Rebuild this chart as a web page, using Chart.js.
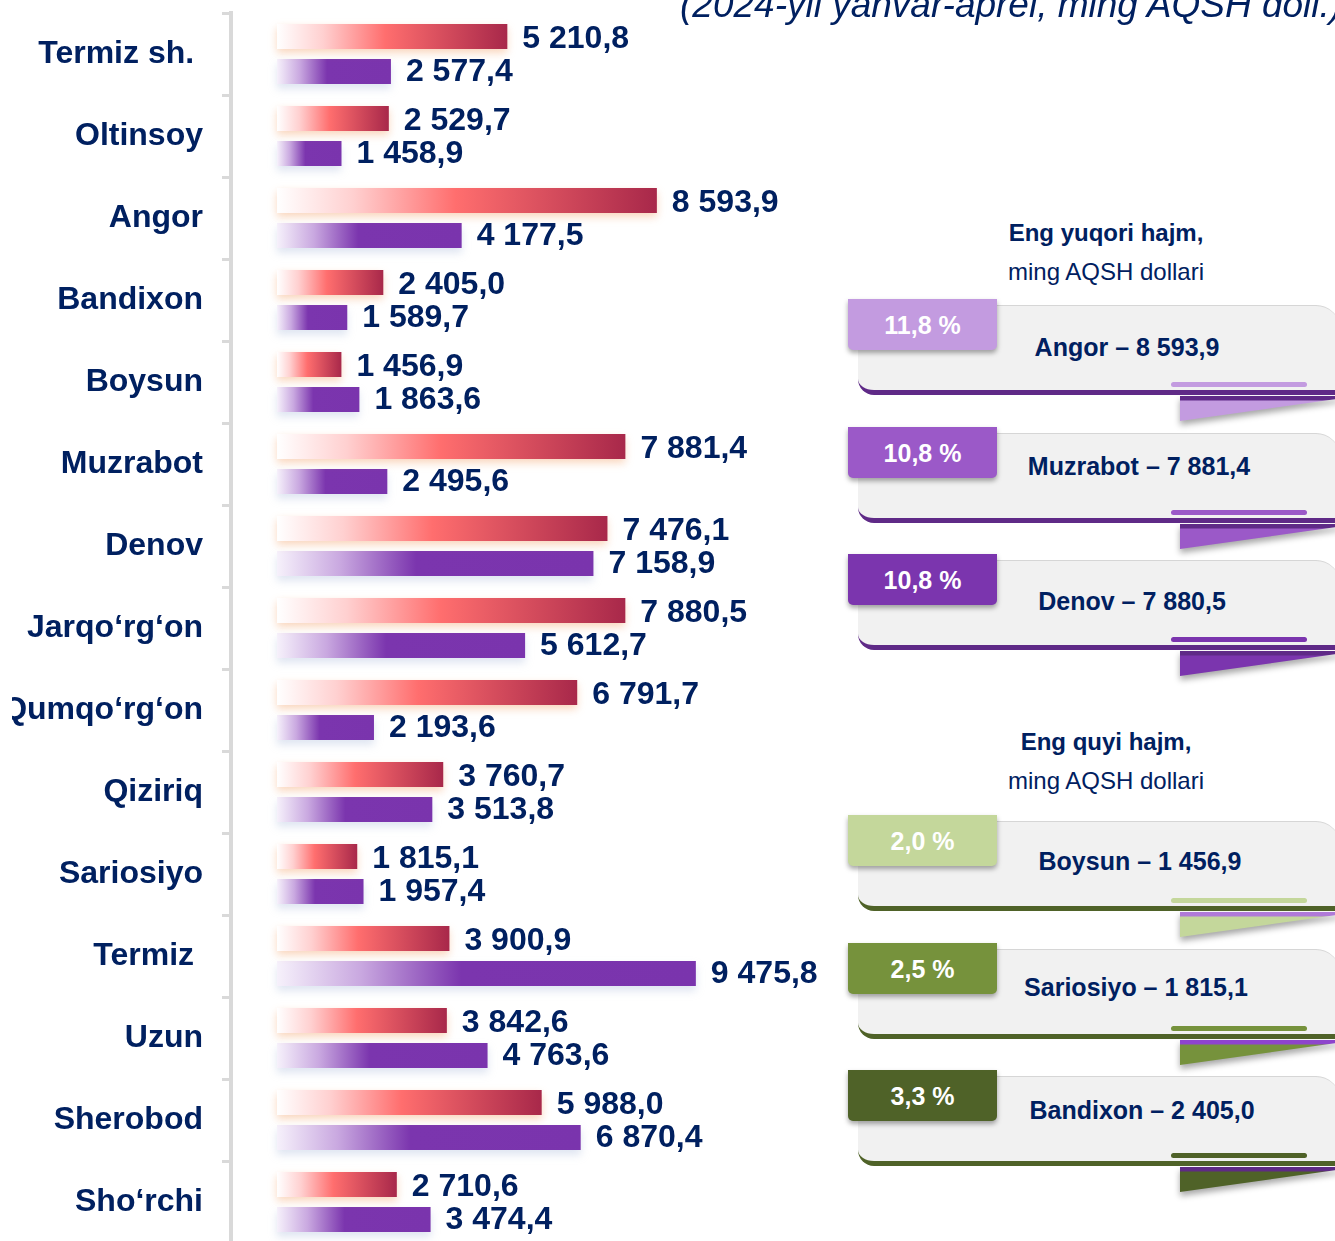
<!DOCTYPE html>
<html lang="uz">
<head>
<meta charset="UTF-8">
<title>Tumanlar bo'yicha eksport va import</title>
<script src="https://cdn.jsdelivr.net/npm/chart.js@4.4.1/dist/chart.umd.min.js"></script>
<style>
  html, body { margin: 0; padding: 0; background: #fff; overflow: hidden; }
  body { width: 1335px; height: 1241px; position: relative; font-family: "Liberation Sans", Arial, sans-serif; }
  #chartBox { position: absolute; left: 12px; top: 0; width: 828px; height: 1245px; }
  .title { position: absolute; left: 680px; top: -14px; font-size: 37px; line-height: 37px; font-style: italic; color: #002060; white-space: nowrap; }
  .head { position: absolute; left: 956px; width: 300px; text-align: center; color: #002060; font-size: 24px; line-height: 39px; }
  .head b { font-weight: bold; }
  .card { position: absolute; left: 858px; width: 482px; height: 84px; background: #f1f1f1; border-top: 1px solid #d6d6d6; border-bottom: 5px solid; border-radius: 0 24px 0 16px; box-sizing: content-box; }
  .accent { position: absolute; left: 313px; width: 136px; height: 5px; border-radius: 3px; top: 76px; }
  .foldWrap { position: absolute; left: 1180px; width: 160px; height: 25px; filter: drop-shadow(0 4px 3px rgba(0,0,0,0.35)); }
  .fold { width: 100%; height: 100%; clip-path: polygon(0 0, 100% 0, 100% 10%, 0 100%); }
  .badge { position: absolute; left: 848px; width: 149px; height: 51px; border-radius: 0 0 5px 5px; box-shadow: 0 3px 5px rgba(0,0,0,0.35); color: #fff; font-weight: bold; font-size: 25px; text-align: center; line-height: 52px; }
  .label { position: absolute; width: 300px; text-align: center; color: #002060; font-weight: bold; font-size: 25px; line-height: 30px; white-space: nowrap; }
</style>
</head>
<body>
<div id="chartBox"><canvas id="barChart" width="828" height="1245"></canvas></div>
<div class="title">(2024-yil yanvar-aprel, ming AQSH doll.)</div>
<div class="head" style="top:213px"><b>Eng yuqori hajm,</b><br>ming AQSH dollari</div>
<div class="head" style="top:722px"><b>Eng quyi hajm,</b><br>ming AQSH dollari</div>
<div id="panels"></div>

<script>
// tumanlar
const districts = ['Termiz sh. ', 'Oltinsoy', 'Angor', 'Bandixon', 'Boysun', 'Muzrabot', 'Denov',
    'Jarqo\u2018rg\u2018on', 'Qumqo\u2018rg\u2018on', 'Qiziriq', 'Sariosiyo', 'Termiz ', 'Uzun', 'Sherobod', 'Sho\u2018rchi'];
// qizil qator
const redValues = [5210.8, 2529.7, 8593.9, 2405.0, 1456.9, 7881.4, 7476.1, 7880.5, 6791.7, 3760.7, 1815.1, 3900.9, 3842.6, 5988.0, 2710.6];
// binafsha qator
const purpleValues = [2577.4, 1458.9, 4177.5, 1589.7, 1863.6, 2495.6, 7158.9, 5612.7, 2193.6, 3513.8, 1957.4, 9475.8, 4763.6, 6870.4, 3474.4];

// o'ng tomondagi bloklar
const topNames = ['Angor', 'Muzrabot', 'Denov'];
const topValues = [8593.9, 7881.4, 7880.5];
const topShares = [11.8, 10.8, 10.8];
const lowNames = ['Boysun', 'Sariosiyo', 'Bandixon'];
const lowValues = [1456.9, 1815.1, 2405.0];
const lowShares = [2.0, 2.5, 3.3];

function fmt(v) {
    const parts = v.toFixed(1).split('.');
    return parts[0].replace(/\B(?=(\d{3})+(?!\d))/g, ' ') + ',' + parts[1];
}

function barGradient(ctx, stops, fallback) {
    const chart = ctx.chart;
    const xs = chart.scales.x;
    if (!chart.chartArea || !xs || ctx.raw == null) return fallback;
    const x0 = xs.getPixelForValue(0);
    const x1 = xs.getPixelForValue(ctx.raw);
    const g = chart.ctx.createLinearGradient(x0, 0, x1, 0);
    stops.forEach(s => g.addColorStop(s[0], s[1]));
    return g;
}

const redStops = [[0, '#ffffff'], [0.2, '#ffd0d0'], [0.47, '#ff6e6e'], [1, '#a8284a']];
const purpleStops = [[0, '#f6f1fb'], [0.2, '#c9a8e0'], [0.44, '#7b35ae'], [1, '#7a34ad']];
const shadows = [
    { color: 'rgba(240,140,70,0.35)', blur: 8, y: 4 },
    { color: 'rgba(150,170,210,0.30)', blur: 8, y: 5 }
];
const labelDy = [3, 1];

const shadowPlugin = {
    id: 'barShadow',
    beforeDatasetDraw(chart, args) {
        const s = shadows[args.index];
        chart.ctx.save();
        chart.ctx.shadowColor = s.color;
        chart.ctx.shadowBlur = s.blur;
        chart.ctx.shadowOffsetY = s.y;
    },
    afterDatasetDraw(chart) {
        chart.ctx.restore();
    }
};

const valuePlugin = {
    id: 'valueLabels',
    afterDatasetsDraw(chart) {
        const c = chart.ctx;
        c.save();
        c.font = 'bold 32px "Liberation Sans", Arial, sans-serif';
        c.fillStyle = '#002060';
        c.textAlign = 'left';
        c.textBaseline = 'middle';
        chart.data.datasets.forEach((ds, i) => {
            chart.getDatasetMeta(i).data.forEach((el, j) => {
                c.fillText(fmt(ds.data[j]), el.x + 15, el.y + labelDy[i]);
            });
        });
        c.restore();
    }
};

new Chart(document.getElementById('barChart'), {
    type: 'bar',
    data: {
        labels: districts,
        datasets: [
            {
                data: redValues,
                backgroundColor: ctx => barGradient(ctx, redStops, '#e05060'),
                barPercentage: 0.714,
                categoryPercentage: 0.854
            },
            {
                data: purpleValues,
                backgroundColor: ctx => barGradient(ctx, purpleStops, '#7b35ae'),
                barPercentage: 0.714,
                categoryPercentage: 0.854
            }
        ]
    },
    options: {
        indexAxis: 'y',
        responsive: false,
        animation: false,
        devicePixelRatio: 1,
        layout: { padding: { top: 13, bottom: 2, left: 0, right: 0 } },
        plugins: { legend: { display: false }, tooltip: { enabled: false } },
        scales: {
            x: { display: false, min: -1041, max: 12737 },
            y: {
                afterFit: s => { s.width = 219; s.paddingTop = 0; s.paddingBottom = 0; },
                grid: { display: true, drawOnChartArea: false, drawTicks: true, tickLength: 9, color: '#d9d9d9', lineWidth: 3, offset: true },
                border: { display: true, color: '#d9d9d9', width: 4 },
                ticks: {
                    color: '#002060',
                    padding: 19,
                    font: { family: '"Liberation Sans", Arial, sans-serif', size: 32, weight: 'bold' }
                }
            }
        }
    },
    plugins: [shadowPlugin, valuePlugin]
});

// o'ng bloklar
const panelTops = [299, 427, 554, 815, 943, 1070];
const textDy = [33, 24, 32, 31, 29, 25];
const textCx = [1127, 1139, 1132, 1140, 1136, 1142];
const panelColors = ['#c39be0', '#9b59c8', '#7b35ae', '#c4d79b', '#76923c', '#4f6228'];
const lineColors = ['#5f2a87', '#5f2a87', '#5f2a87', '#4f6228', '#4f6228', '#4f6228'];
const stripColors = ['#5f2a87', '#5f2a87', '#5f2a87', '#b07ad8', '#8e44cc', '#5e2a84'];
const names = topNames.concat(lowNames);
const values = topValues.concat(lowValues);
const shares = topShares.concat(lowShares);
const box = document.getElementById('panels');

names.forEach((name, i) => {
    const t = panelTops[i];
    const col = panelColors[i];
    box.insertAdjacentHTML('beforeend', `
        <div class="foldWrap" style="top:${t + 97}px"><div class="fold" style="background:linear-gradient(to bottom, ${stripColors[i]} 0, ${stripColors[i]} 4px, ${col} 5px)"></div></div>
        <div class="card" style="top:${t + 6}px;border-bottom-color:${lineColors[i]}">
            <div class="accent" style="background:${col}"></div>
        </div>
        <div class="badge" style="top:${t}px;background:${col}">${shares[i].toFixed(1).replace('.', ',')} %</div>
        <div class="label" style="top:${t + textDy[i]}px;left:${textCx[i] - 150}px">${name} \u2013 ${fmt(values[i])}</div>
    `);
});
</script>
</body>
</html>
